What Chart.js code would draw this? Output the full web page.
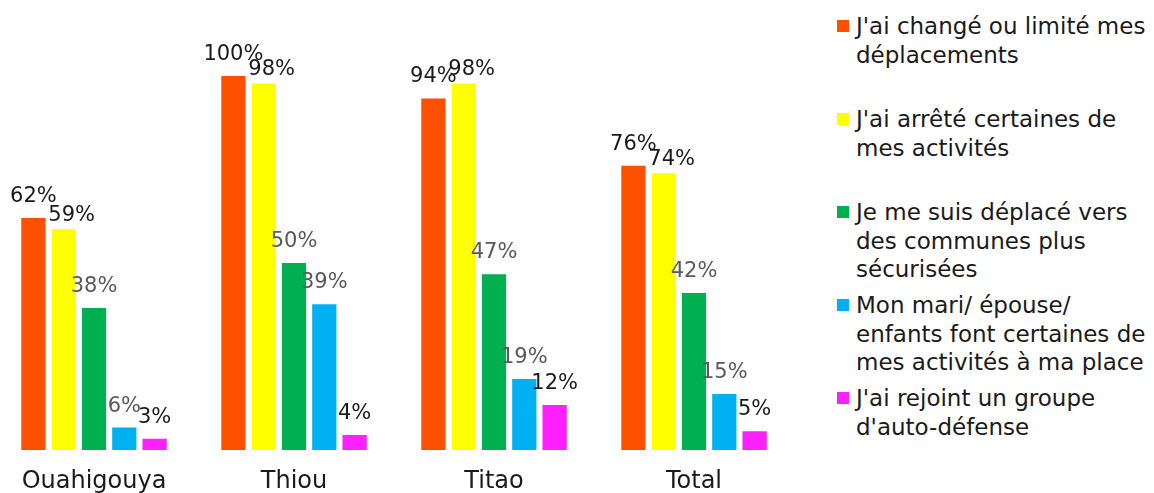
<!DOCTYPE html>
<html lang="fr">
<head>
<meta charset="utf-8">
<title>Changements de comportement</title>
<script src="https://cdn.jsdelivr.net/npm/chart.js@4.4.1/dist/chart.umd.min.js"></script>
<style>
  html, body { margin: 0; padding: 0; background: #fff; }
  body { width: 1154px; height: 493px; position: relative; overflow: hidden;
         font-family: "DejaVu Sans", sans-serif; }
  #wrap { position: absolute; left: -6px; top: 0; width: 800px; height: 493px; }
  #legend { position: absolute; left: 837px; top: 0; width: 317px; }
  .item { position: relative; height: 93px; padding-left: 19px; box-sizing: border-box;
          font-size: 23px; line-height: 28.5px; color: #1a1a1a; padding-top: 12px; }
  .item .box { position: absolute; left: 0; top: 20px; width: 12px; height: 12px; }
</style>
</head>
<body>
<div id="wrap"><canvas id="behaviourChart"></canvas></div>
<div id="legend"></div>
<script>
// Communes and the total
const communes = ['Ouahigouya', 'Thiou', 'Titao', 'Total'];

// Share of respondents (%) per answer
const changedTrips = [62, 100, 94, 76];
const stoppedActivities = [59, 98, 98, 74];
const movedToSaferTowns = [38, 50, 47, 42];
const familyDoesActivities = [6, 39, 19, 15];
const joinedSelfDefence = [3, 4, 12, 5];

// Legend text, one entry per line
const answerLabels = [
    ["J'ai changé ou limité mes", "déplacements"],
    ["J'ai arrêté certaines de", "mes activités"],
    ["Je me suis déplacé vers", "des communes plus", "sécurisées"],
    ["Mon mari/ épouse/", "enfants font certaines de", "mes activités à ma place"],
    ["J'ai rejoint un groupe", "d'auto-défense"]
];

const seriesValues = [changedTrips, stoppedActivities, movedToSaferTowns, familyDoesActivities, joinedSelfDefence];
const barColors = ['#FF5000', '#FFFF00', '#00B050', '#00B0F0', '#FF20FF'];
const labelColors = ['#1a1a1a', '#1a1a1a', '#595959', '#595959', '#1a1a1a'];
// small nudges for the value labels of each series (dx, dy)
const labelShift = [[0, 0], [8, 8], [0, 0], [0, 0], [0, 0]];

const FONT = '"DejaVu Sans", sans-serif';

// Draw the percentage above every bar
const valueLabels = {
    id: 'valueLabels',
    afterDatasetsDraw(chart) {
        const ctx = chart.ctx;
        ctx.save();
        ctx.font = '21px ' + FONT;
        ctx.textAlign = 'center';
        ctx.textBaseline = 'alphabetic';
        chart.data.datasets.forEach((ds, i) => {
            const meta = chart.getDatasetMeta(i);
            ctx.fillStyle = labelColors[i];
            meta.data.forEach((bar, j) => {
                ctx.fillText(ds.data[j] + '%', bar.x + labelShift[i][0], bar.y - 16 + labelShift[i][1]);
            });
        });
        ctx.restore();
    }
};

const ctx = document.getElementById('behaviourChart').getContext('2d');

const chart = new Chart(ctx, {
    type: 'bar',
    data: {
        labels: communes,
        datasets: seriesValues.map((values, i) => ({
            label: answerLabels[i].join(' '),
            data: values,
            backgroundColor: barColors[i],
            borderWidth: 0,
            barPercentage: 0.8,
            categoryPercentage: 150 / 198
        }))
    },
    options: {
        responsive: true,
        maintainAspectRatio: false,
        animation: false,
        layout: { padding: { top: 1.2, left: 0, right: 0, bottom: 0 } },
        plugins: {
            legend: { display: false },
            tooltip: { enabled: false }
        },
        scales: {
            x: {
                grid: { display: false, drawTicks: false },
                border: { display: false },
                ticks: {
                    color: '#1a1a1a',
                    font: { family: FONT, size: 24 },
                    padding: 17
                },
                afterFit(scale) { scale.height = 43; }
            },
            y: {
                display: false,
                min: 0,
                max: 120
            }
        }
    },
    plugins: [valueLabels]
});

// Legend built from the chart's datasets
const legendBox = document.getElementById('legend');
chart.data.datasets.forEach((ds, i) => {
    const item = document.createElement('div');
    item.className = 'item';
    const box = document.createElement('span');
    box.className = 'box';
    box.style.background = ds.backgroundColor;
    item.appendChild(box);
    answerLabels[i].forEach(line => {
        const row = document.createElement('div');
        row.textContent = line;
        item.appendChild(row);
    });
    legendBox.appendChild(item);
});
</script>
</body>
</html>
